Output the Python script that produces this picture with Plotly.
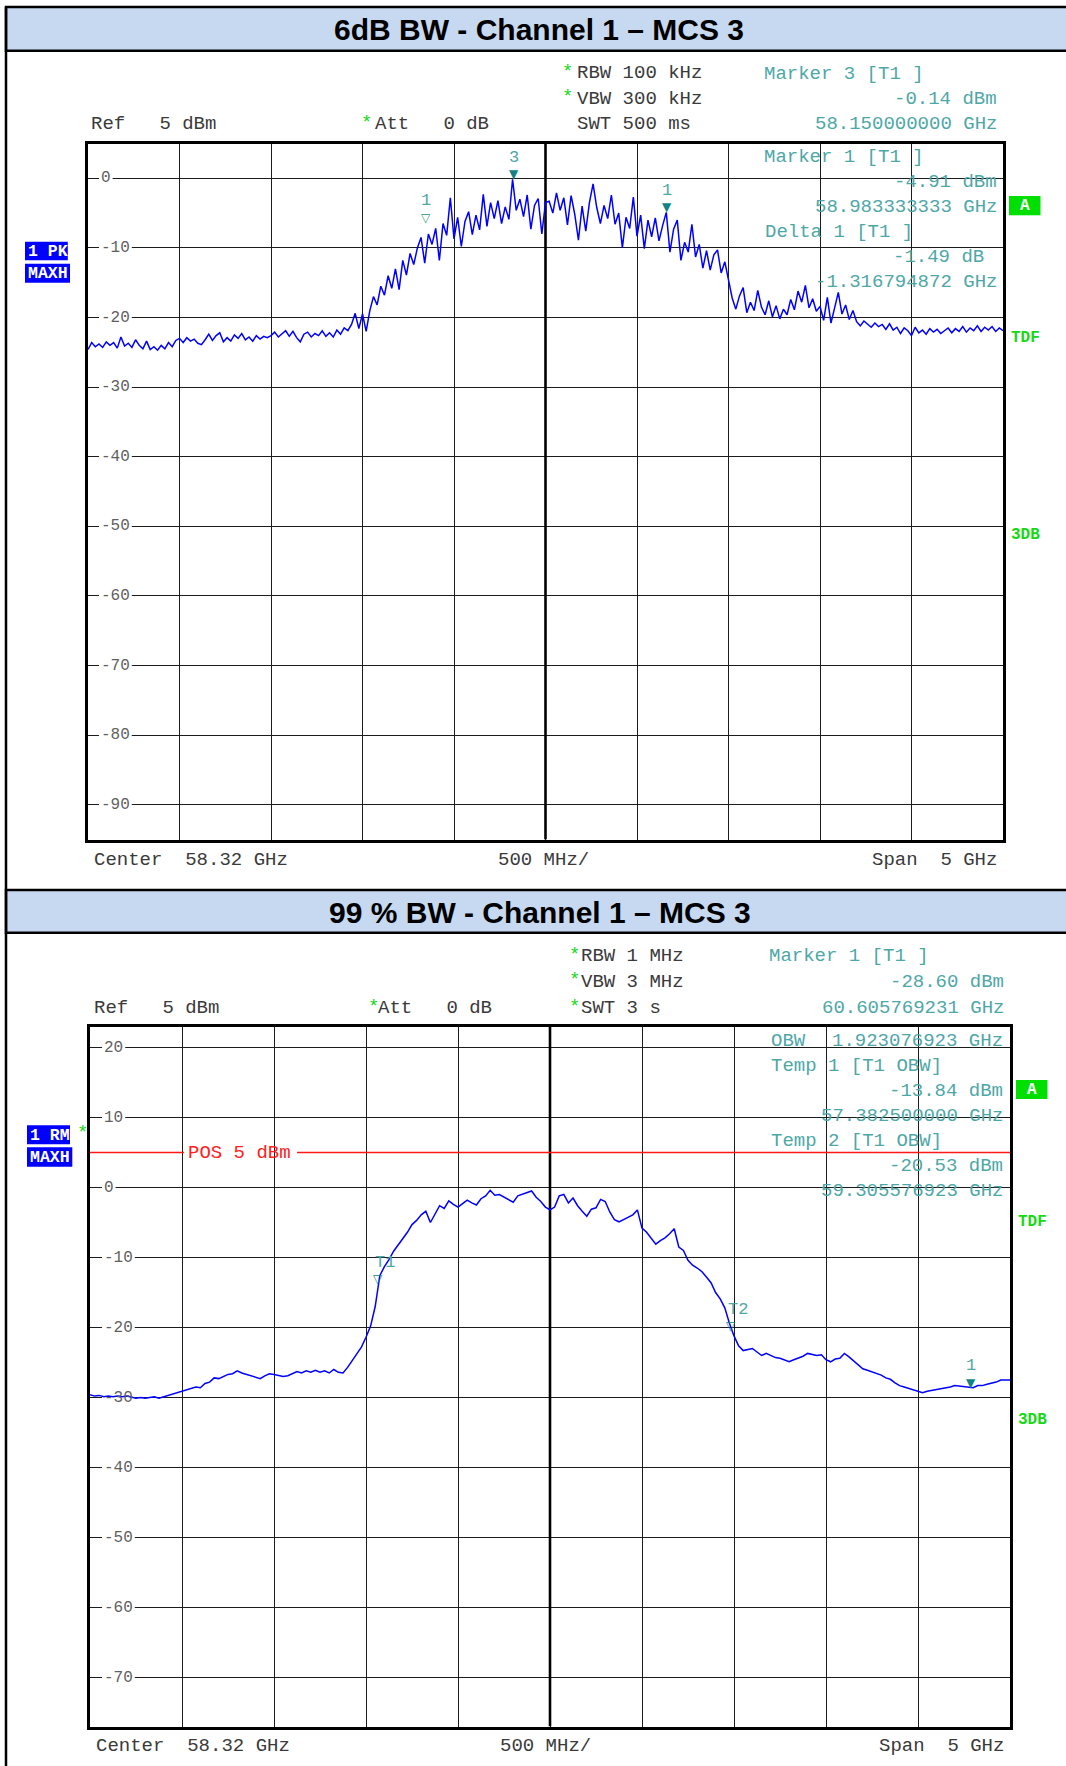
import numpy as np
import plotly.graph_objects as go

W, H = 1066, 1766

# ---------------- data ----------------
center_ghz = 58.32
span_ghz = 5.0
div_ghz = 0.5

# 6 dB BW trace (RBW 100 kHz, max hold), 0.02 GHz grid from 55.82 to 60.82 GHz
top_dbm = [
    -24.6, -23.6, -24.2, -23.8, -24.3, -23.5, -24.0, -23.6, -24.4, -22.8, -24.1, -23.7, -24.3,
    -23.2, -24.0, -24.5, -23.4, -24.6, -24.2, -24.7, -24.0, -24.5, -23.6, -24.2, -23.3,
    -23.0, -23.6, -22.9, -23.4, -23.1, -23.7, -23.9, -23.2, -22.4, -23.3, -22.6, -22.2, -23.5,
    -22.9, -23.4, -22.5, -23.0, -22.3, -23.2, -22.8, -23.4, -22.6, -23.1, -22.7, -22.9,
    -22.6, -22.1, -22.8, -22.3, -21.9, -22.7, -22.0, -22.9, -23.5, -22.4, -22.1, -22.8, -22.3,
    -22.6, -21.9, -22.7, -22.2, -22.8, -21.8, -22.4, -21.5, -21.9, -21.0, -19.4, -21.6,
    -19.5, -22.0, -19.0, -17.0, -18.2, -15.5, -16.8, -14.0, -15.8, -13.0, -16.0, -11.8, -13.9,
    -10.8, -12.4, -10.0, -8.5, -12.2, -8.0, -9.5, -7.2, -11.8, -6.5, -8.2, -2.8,
    -8.7, -5.6, -9.8, -6.2, -4.8, -8.1, -5.3, -7.4, -2.3, -6.9, -3.5, -5.8, -3.2,
    -6.5, -4.1, -5.9, -0.14, -4.6, -3.0, -5.5, -2.4, -7.3, -3.9, -2.9, -8.0,
    -3.5, -3.3, -5.0, -2.1, -4.6, -2.8, -6.7, -2.5, -5.2, -8.9, -4.0, -7.6, -3.5,
    -0.8, -4.2, -6.5, -3.9, -5.8, -2.4, -6.6, -5.0, -10.0, -5.6, -7.2, -2.7,
    -8.3, -5.3, -10.1, -6.0, -8.4, -5.7, -9.0, -6.8, -4.9, -10.6, -7.3, -6.0, -11.8,
    -9.2, -10.6, -6.6, -11.3, -9.5, -12.9, -10.4, -13.2, -11.0, -10.3, -13.6, -12.0,
    -14.6, -17.2, -18.8, -16.9, -15.7, -19.3, -17.8, -19.0, -16.1, -18.5, -19.6, -17.6, -19.9,
    -18.3, -20.2, -18.8, -19.6, -17.4, -18.9, -16.2, -17.8, -15.4, -18.6, -17.3, -19.1,
    -18.4, -20.4, -17.1, -20.8, -18.6, -16.4, -19.5, -18.2, -20.3, -19.0, -20.6, -21.2, -20.5,
    -21.0, -21.4, -20.8, -21.3, -21.0, -21.7, -20.9, -21.8, -21.4, -22.3, -21.5, -21.9,
    -22.6, -21.4, -22.2, -21.8, -22.4, -21.6, -22.1, -21.7, -22.3, -21.9, -21.5, -22.2, -21.6,
    -22.0, -21.3, -22.1, -21.5, -21.9, -21.2, -22.0, -21.4, -21.8, -21.3, -22.0, -21.5, -21.9,
]

# 99 % BW trace (RBW 1 MHz, RMS max hold), 0.025 GHz grid from 55.82 to 60.82 GHz
bot_dbm = [
    -29.6, -29.8, -29.7, -29.9, -29.8, -29.9, -29.8, -29.9, -29.8, -29.9,
    -30.1, -30.0, -30.1, -30.0, -29.9, -30.1, -29.9, -29.7, -29.5, -29.3,
    -29.1, -28.9, -28.8, -28.5, -28.6, -28.0, -27.8, -27.2, -27.3, -27.0,
    -26.7, -26.6, -26.2, -26.5, -26.7, -26.9, -27.1, -27.3, -26.9, -26.6,
    -26.7, -26.9, -27.0, -26.9, -26.6, -26.3, -26.5, -26.2, -26.4, -26.1,
    -26.4, -26.2, -26.5, -26.0, -26.4, -26.5, -25.7, -24.7, -23.8, -22.8,
    -21.4, -19.8, -17.0, -12.6, -11.3, -10.3, -9.1, -8.2, -7.4, -6.4,
    -5.3, -4.7, -3.9, -3.4, -5.0, -3.8, -2.6, -3.0, -1.9, -2.4,
    -2.8, -2.3, -1.8, -2.2, -2.5, -1.6, -1.2, -0.4, -1.1, -1.0,
    -1.4, -1.8, -2.1, -1.2, -1.0, -0.8, -0.5, -1.4, -2.0, -2.8,
    -3.2, -2.8, -1.2, -1.0, -2.2, -1.5, -2.6, -3.4, -4.1, -3.1,
    -2.9, -1.7, -2.0, -3.5, -4.6, -4.9, -4.6, -4.3, -3.9, -3.2,
    -5.8, -6.4, -7.2, -8.1, -7.6, -7.2, -6.6, -5.9, -8.5, -9.0,
    -10.4, -11.1, -11.5, -12.0, -12.8, -13.6, -15.0, -15.9, -17.2, -19.4,
    -21.2, -22.6, -23.3, -23.1, -23.0, -23.5, -24.0, -23.7, -24.0, -24.3,
    -24.4, -24.6, -24.9, -24.6, -24.4, -24.1, -23.7, -23.8, -24.0, -23.9,
    -24.6, -24.9, -24.5, -24.4, -23.7, -24.2, -24.8, -25.3, -25.9, -26.1,
    -26.3, -26.6, -26.8, -27.2, -27.4, -27.9, -28.3, -28.5, -28.7, -28.9,
    -29.1, -29.3, -29.1, -29.0, -28.8, -28.8, -28.6, -28.5, -28.3, -28.4,
    -28.4, -28.5, -28.6, -28.3, -28.3, -28.1, -28.0, -27.8, -27.5, -27.5, -27.5,
]

top_yticks = [0, -10, -20, -30, -40, -50, -60, -70, -80, -90]
bot_yticks = [20, 10, 0, -10, -20, -30, -40, -50, -60, -70]
top_yrange = [-95, 5]
bot_yrange = [-77, 23]

top_mk_label = ["3", "1", "1"]
top_mk_freq = [58.15, 58.983333333, 57.666538461]
top_mk_dbm = [-0.14, -4.91, -6.40]
top_mk_kind = ["solid", "solid", "delta"]

bot_mk_label = ["T1", "T2", "1"]
bot_mk_freq = [57.3825, 59.305576923, 60.605769231]
bot_mk_dbm = [-13.84, -20.53, -28.60]
bot_mk_kind = ["open", "open", "solid"]

display_line_dbm = 5

# ---------------- styling / layout ----------------
MONO = "Liberation Mono, DejaVu Sans Mono, monospace"
SANS = "Liberation Sans, Arial, sans-serif"
DARK = "#3a3a3a"
GRAYT = "#5f5f5f"
TEAL = "#4ea7a7"
TEAL_D = "#128282"
GREEN = "#16d916"
BLUE = "#0000ff"
HS = 19  # header font size

TOP_BOX = (88, 143.5, 1003, 839.5)   # left, top, right, bottom in px
BOT_BOX = (90, 1026.5, 1010, 1726.5)

f0 = center_ghz - span_ghz / 2
f1 = center_ghz + span_ghz / 2
top_f = np.linspace(f0, f1, len(top_dbm))
bot_f = np.linspace(f0, f1, len(bot_dbm))


def fpx(px, box):
    return f0 + (px - box[0]) / (box[2] - box[0]) * span_ghz


fig = go.Figure()
fig.add_trace(go.Scatter(x=top_f, y=top_dbm, mode="lines", xaxis="x", yaxis="y",
                         line=dict(color=BLUE, width=1.5), hoverinfo="skip"))
fig.add_trace(go.Scatter(x=bot_f, y=bot_dbm, mode="lines", xaxis="x2", yaxis="y2",
                         line=dict(color=BLUE, width=1.5), hoverinfo="skip"))


def xax(box, anchor):
    return dict(domain=[box[0] / W, box[2] / W], range=[f0, f1], anchor=anchor,
                showgrid=True, gridcolor="#1c1c1c", gridwidth=1.3, dtick=div_ghz, tick0=f0,
                showticklabels=False, ticks="", showline=True, linecolor="black",
                linewidth=2.6, mirror=True, zeroline=False, fixedrange=True)


def yax(box, rng, anchor):
    return dict(domain=[1 - box[3] / H, 1 - box[1] / H], range=rng, anchor=anchor,
                showgrid=True, gridcolor="#1c1c1c", gridwidth=1.3, dtick=10, tick0=0,
                showticklabels=False, ticks="", showline=True, linecolor="black",
                linewidth=2.6, mirror=True, zeroline=False, fixedrange=True)


shapes = []
ann = []


def prect(x0, y0, x1, y1, fill, lw=0, lc="black", layer="below"):
    shapes.append(dict(type="rect", xref="paper", yref="paper", x0=x0 / W, x1=x1 / W,
                       y0=1 - y1 / H, y1=1 - y0 / H, fillcolor=fill,
                       line=dict(width=lw, color=lc), layer=layer))


def text(x, y, s, color=DARK, size=HS, anchor="left", family=MONO, bold=False):
    s = s.replace(" ", "\u00a0")
    ann.append(dict(xref="paper", yref="paper", x=x / W, y=1 - y / H,
                    text=f"<b>{s}</b>" if bold else s, showarrow=False, xanchor=anchor,
                    yanchor="middle", borderpad=0, font=dict(family=family, size=size, color=color)))


# panel frames and title bands
prect(6, 7, 1080, 50.7, "#c6d9f1", lw=2.5)
prect(6, 890, 1080, 932.7, "#c6d9f1", lw=2.5)
shapes.append(dict(type="line", xref="paper", yref="paper", x0=6 / W, x1=6 / W,
                   y0=-0.01, y1=1 - 7 / H, line=dict(color="black", width=2.5)))
text(539, 29.5, "6dB BW - Channel 1 \u2013 MCS 3", color="black", size=30, anchor="center",
     family=SANS, bold=True)
text(540, 912, "99 % BW - Channel 1 \u2013 MCS 3", color="black", size=30, anchor="center",
     family=SANS, bold=True)

# centre lines and y tick labels with gaps in the grid
for box, rng, xr, yr, ticks, lab_x in [(TOP_BOX, top_yrange, "x", "y", top_yticks, 100),
                                       (BOT_BOX, bot_yrange, "x2", "y2", bot_yticks, 103)]:
    shapes.append(dict(type="line", xref=xr, yref=yr, x0=center_ghz, x1=center_ghz,
                       y0=rng[0], y1=rng[1], line=dict(color="black", width=2.6), layer="between"))
    for v in ticks:
        s = str(v)
        shapes.append(dict(type="rect", xref=xr, yref=yr, x0=fpx(lab_x - 1, box),
                           x1=fpx(lab_x + 9.6 * len(s) + 3, box), y0=v - 0.35, y1=v + 0.35,
                           fillcolor="white", line=dict(width=0), layer="between"))
        ann.append(dict(xref="paper", yref=yr, x=lab_x / W, y=v, text=s, showarrow=False,
                        xanchor="left", yanchor="middle", borderpad=0,
                        font=dict(family=MONO, size=16, color=GRAYT)))

# display line (bottom)
for xa, xb in [(f0, fpx(184, BOT_BOX)), (fpx(297, BOT_BOX), f1)]:
    shapes.append(dict(type="line", xref="x2", yref="y2", x0=xa, x1=xb,
                       y0=display_line_dbm, y1=display_line_dbm,
                       line=dict(color="#ff1a1a", width=1.6), layer="between"))
ann.append(dict(xref="paper", yref="y2", x=187 / W, y=display_line_dbm,
                text="POS\u00a05\u00a0dBm", showarrow=False, xanchor="left", yanchor="middle",
                borderpad=0, font=dict(family=MONO, size=HS, color="#ff2020")))

# markers
for labels, freqs, vals, kinds, xr, yr in [
        (top_mk_label, top_mk_freq, top_mk_dbm, top_mk_kind, "x", "y"),
        (bot_mk_label, bot_mk_freq, bot_mk_dbm, bot_mk_kind, "x2", "y2")]:
    for lab, f, v, k in zip(labels, freqs, vals, kinds):
        sym = "\u25BC" if k == "solid" else "\u25BD"
        col = TEAL_D if k != "delta" else "#2a9a78"
        ann.append(dict(xref=xr, yref=yr, x=f, y=v, text=sym, showarrow=False,
                        yanchor="bottom", yshift=-3, borderpad=0,
                        font=dict(family="DejaVu Sans", size=12, color=col)))
        if len(lab) > 1:
            ann.append(dict(xref=xr, yref=yr, x=f, y=v, text=lab, showarrow=False,
                            xanchor="left", xshift=-4, yanchor="middle", yshift=22, borderpad=0,
                            font=dict(family=MONO, size=17, color=TEAL)))
        else:
            ann.append(dict(xref=xr, yref=yr, x=f, y=v, text=lab, showarrow=False,
                            xanchor="center", yanchor="middle", yshift=22, borderpad=0,
                            font=dict(family=MONO, size=17, color=TEAL)))

# ---- top panel header texts ----
text(561, 71.5, "*", GREEN)
text(576, 73, "RBW 100 kHz")
text(561, 97.5, "*", GREEN)
text(576, 99, "VBW 300 kHz")
text(90, 124, "Ref   5 dBm")
text(360, 122.5, "*", GREEN)
text(374, 124, "Att   0 dB")
text(576, 124, "SWT 500 ms")
text(763, 74, "Marker 3 [T1 ]", TEAL)
text(998, 99, "-0.14 dBm", TEAL, anchor="right")
text(998, 124, "58.150000000 GHz", TEAL, anchor="right")
text(763, 157, "Marker 1 [T1 ]", TEAL)
text(998, 182.5, "-4.91 dBm", TEAL, anchor="right")
text(998, 207, "58.983333333 GHz", TEAL, anchor="right")
text(764, 232, "Delta 1 [T1 ]", TEAL)
text(985, 257, "-1.49 dB", TEAL, anchor="right")
text(998, 282, "-1.316794872 GHz", TEAL, anchor="right")
text(93, 859.5, "Center  58.32 GHz")
text(543, 859.5, "500 MHz/", anchor="center")
text(998, 859.5, "Span  5 GHz", anchor="right")

# ---- bottom panel header texts ----
text(567.5, 954.5, "*", GREEN)
text(580, 956, "RBW 1 MHz")
text(567.5, 980.5, "*", GREEN)
text(580, 982, "VBW 3 MHz")
text(93, 1008, "Ref   5 dBm")
text(367, 1006.5, "*", GREEN)
text(377, 1008, "Att   0 dB")
text(567.5, 1006.5, "*", GREEN)
text(580, 1008, "SWT 3 s")
text(768, 956, "Marker 1 [T1 ]", TEAL)
text(1004.5, 982, "-28.60 dBm", TEAL, anchor="right")
text(1004.5, 1008, "60.605769231 GHz", TEAL, anchor="right")
text(770, 1041, "OBW", TEAL)
text(1004, 1041, "1.923076923 GHz", TEAL, anchor="right")
text(770, 1066, "Temp 1 [T1 OBW]", TEAL)
text(1004, 1091, "-13.84 dBm", TEAL, anchor="right")
text(1004, 1116, "57.382500000 GHz", TEAL, anchor="right")
text(770, 1141, "Temp 2 [T1 OBW]", TEAL)
text(1004, 1166, "-20.53 dBm", TEAL, anchor="right")
text(1004, 1191, "59.305576923 GHz", TEAL, anchor="right")
text(95, 1746, "Center  58.32 GHz")
text(545, 1746, "500 MHz/", anchor="center")
text(1004.5, 1746, "Span  5 GHz", anchor="right")

# ---- side badges ----
prect(25, 241.7, 67.8, 260.3, BLUE)
text(27, 251.5, "1 PK", "white", size=16.5, bold=True)
prect(25, 263.7, 70, 282.7, BLUE)
text(26.5, 273.5, "MAXH", "white", size=16.5, bold=True)
prect(27, 1125.3, 70, 1144.3, BLUE)
text(29, 1135, "1 RM", "white", size=16.5, bold=True)
prect(27, 1147.3, 72.3, 1166.7, BLUE)
text(28.5, 1157.3, "MAXH", "white", size=16.5, bold=True)
text(76, 1133, "*", GREEN)

prect(1009, 196, 1040.5, 215.3, "#00e000")
text(1024.8, 205.8, "A", "white", size=16, anchor="center", bold=True)
prect(1016, 1080, 1047.5, 1099, "#00e000")
text(1031.8, 1089.7, "A", "white", size=16, anchor="center", bold=True)
text(1010, 337.5, "TDF", GREEN, size=16, bold=True)
text(1010, 535, "3DB", GREEN, size=16, bold=True)
text(1017, 1222, "TDF", GREEN, size=16, bold=True)
text(1017, 1420, "3DB", GREEN, size=16, bold=True)

fig.update_layout(
    width=W, height=H, margin=dict(l=0, r=0, t=0, b=0),
    paper_bgcolor="white", plot_bgcolor="white", showlegend=False,
    xaxis=xax(TOP_BOX, "y"), yaxis=yax(TOP_BOX, top_yrange, "x"),
    xaxis2=xax(BOT_BOX, "y2"), yaxis2=yax(BOT_BOX, bot_yrange, "x2"),
    shapes=shapes, annotations=ann,
)

fig.write_html("out.html")
